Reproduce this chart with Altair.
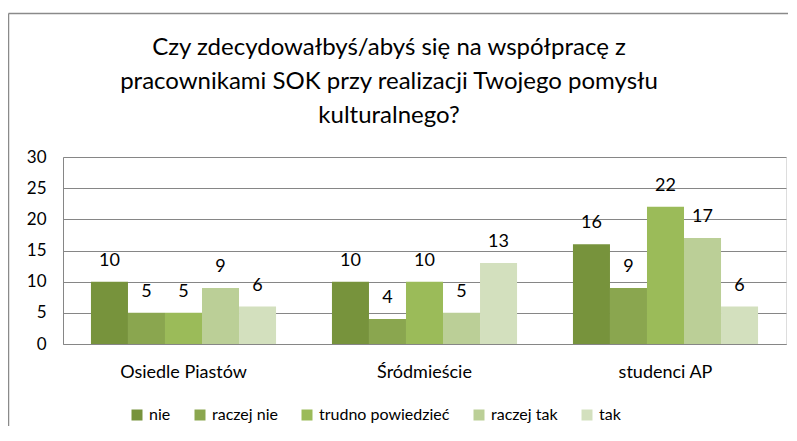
import altair as alt
import pandas as pd

categories = ["Osiedle Piastów", "Śródmieście", "studenci AP"]
series = ["nie", "raczej nie", "trudno powiedzieć", "raczej tak", "tak"]
values = {
    "nie": [10, 10, 16],
    "raczej nie": [5, 4, 9],
    "trudno powiedzieć": [5, 10, 22],
    "raczej tak": [9, 5, 17],
    "tak": [6, 13, 6],
}
colors = ["#77933C", "#8AA64F", "#9BBB59", "#BBCF97", "#D3E0BE"]
title_lines = ["Czy zdecydowałbyś/abyś się na współpracę z",
               "pracownikami SOK przy realizacji Twojego pomysłu",
               "kulturalnego?"]
y_ticks = [0, 5, 10, 15, 20, 25, 30]

rows = []
for s in series:
    for c, v in zip(categories, values[s]):
        rows.append({"kat": c, "odp": s, "n": v})
df = pd.DataFrame(rows)

FONT = "Lato"

x = alt.X("kat:N", sort=categories, title=None,
          scale=alt.Scale(paddingInner=0.232, paddingOuter=0.116),
          axis=alt.Axis(labelAngle=0, labelFontSize=18, labelColor="#000000",
                        labelPadding=19, ticks=False, domainColor="#868686",
                        grid=False, labelFont=FONT))
xo = alt.XOffset("odp:N", sort=series, scale=alt.Scale(paddingInner=0, paddingOuter=0))
y = alt.Y("n:Q", title=None,
          scale=alt.Scale(domain=[0, 30]),
          axis=alt.Axis(values=y_ticks, labelFontSize=17, labelOverlap=False,
                        labelColor="#000000", labelPadding=17, ticks=False,
                        domainColor="#868686", gridColor="#868686",
                        labelFont=FONT))

bars = alt.Chart(df).mark_bar().encode(
    x=x, xOffset=xo, y=y,
    color=alt.Color("odp:N", sort=series,
                    scale=alt.Scale(domain=series, range=colors),
                    legend=alt.Legend(title=None, orient="none", direction="horizontal",
                                      legendX=66, legendY=250,
                                      symbolType="square", symbolSize=121,
                                      symbolStrokeWidth=0,
                                      labelFontSize=16, labelFont=FONT,
                                      labelColor="#000000", labelOffset=4,
                                      columnPadding=21)),
)

labels = alt.Chart(df).mark_text(baseline="bottom", dy=-12, fontSize=18,
                                 font=FONT, color="#000000").encode(
    x=x, xOffset=xo, y=y, text="n:Q",
)

one_df = pd.DataFrame({"k": [0]})
title = alt.Chart(one_df).mark_text(text=title_lines, fontSize=24, font=FONT,
                                    color="#000000", lineHeight=34,
                                    align="center", baseline="alphabetic").encode(
    x=alt.value(326), y=alt.value(-102))
top_line = alt.Chart(one_df).mark_rule(color="#8a8a8a", strokeWidth=1.5).encode(
    x=alt.value(-54.5), x2=alt.value(760), y=alt.value(-143.5))
left_line = alt.Chart(one_df).mark_rule(color="#8a8a8a", strokeWidth=1.5).encode(
    x=alt.value(-54.5), y=alt.value(-143.5), y2=alt.value(320))

chart = alt.layer(bars, labels, title, top_line, left_line).properties(
    width=723, height=187,
    autosize=alt.AutoSizeParams(type="none"),
    padding={"left": 55, "top": 149, "right": 2, "bottom": 82},
).configure_view(stroke=None).configure(background="white")

chart.save("out.html", embed_options={"renderer": "svg", "actions": False})
